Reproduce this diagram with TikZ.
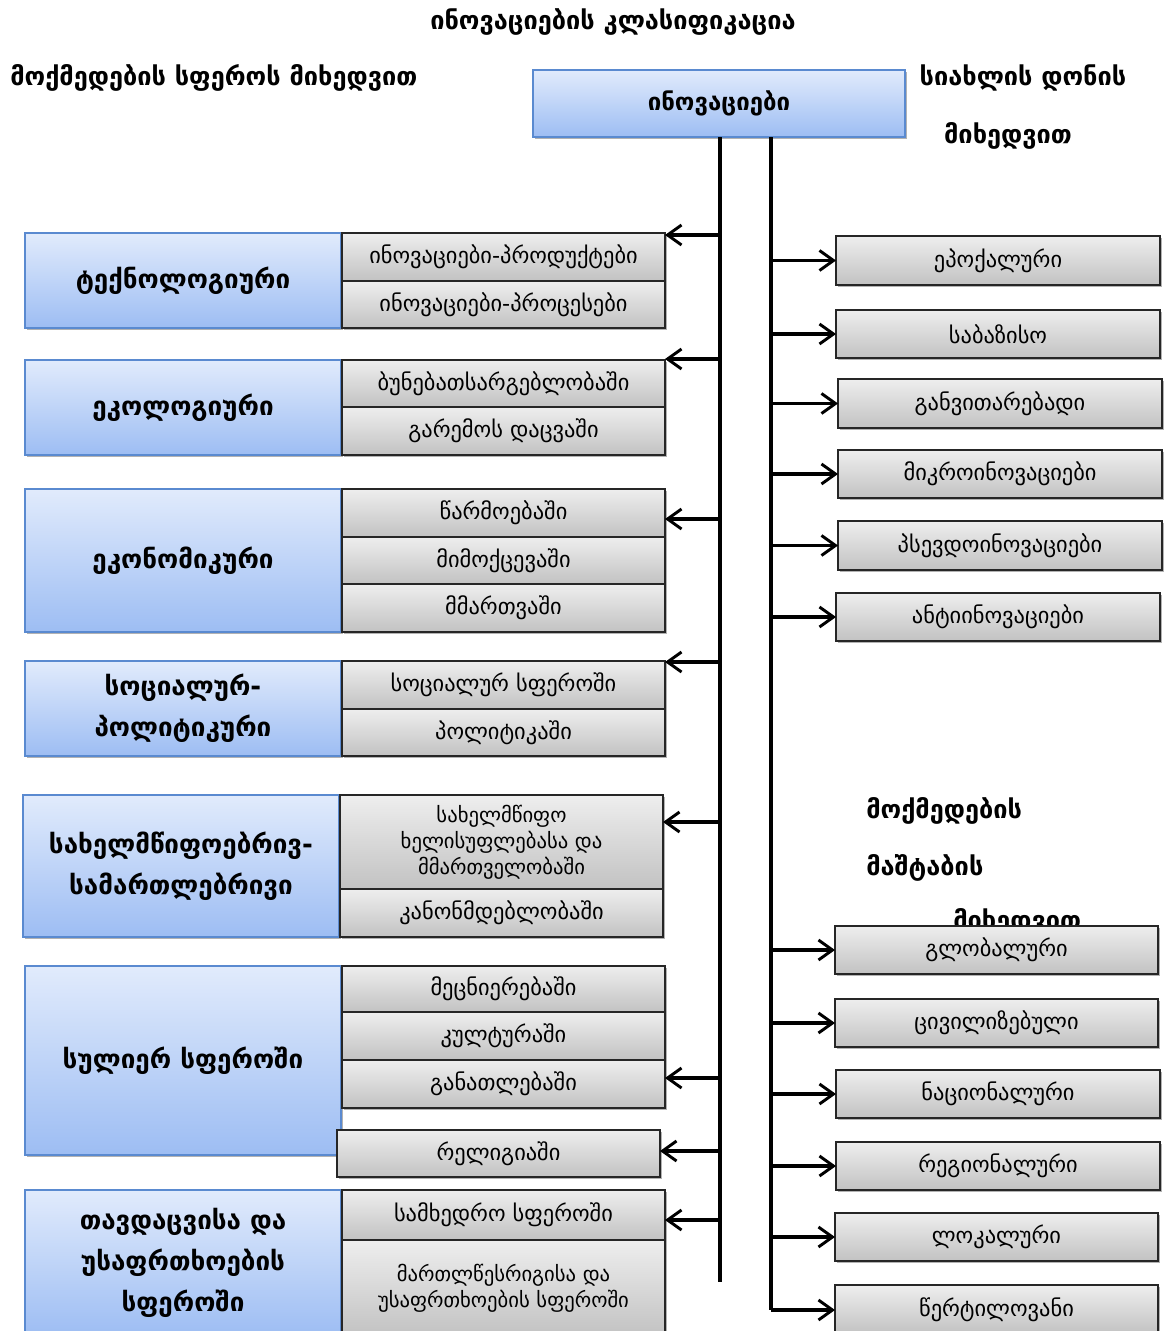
\documentclass[tikz,border=0pt]{standalone}
\usepackage{fontspec}
\setmainfont{DejaVu Sans}
\usetikzlibrary{arrows.meta,shadows}
\definecolor{bluetop}{HTML}{E1EBFC}
\definecolor{bluebot}{HTML}{9DBDF3}
\definecolor{blueborder}{HTML}{5A8AD0}
\definecolor{graytop}{HTML}{EEEEEE}
\definecolor{graybot}{HTML}{C2C2C2}
\tikzset{
  shad/.style={drop shadow={shadow xshift=1.8pt,shadow yshift=-1.8pt,fill=black,opacity=0.3}},
  catbox/.style={draw=blueborder,line width=1.1pt,top color=bluetop,bottom color=bluebot,shad,
     font=\fontsize{19.5}{31}\selectfont\bfseries,align=center,inner sep=0pt,outer sep=0pt},
  subbox/.style={draw=black!85,line width=1.1pt,top color=graytop,bottom color=graybot,shad,
     font=\fontsize{16.8}{19.5}\selectfont,align=center,inner sep=0pt,outer sep=0pt},
  lab/.style={font=\fontsize{19}{22}\selectfont\bfseries,inner sep=0pt},
  trunk/.style={line width=2.3pt,draw=black},
  arr/.style={line width=2.3pt,-{Straight Barb[length=10.5pt,width=15pt,line width=2.2pt]}}
}
\newcommand\bx[7]{\node[#6,minimum width={(#4-#2)*0.75pt},minimum height={(#5-#3)*0.75pt}] (#1) at ({(#2+#4)/2},{(#3+#5)/2}) {#7};}
\begin{document}
\begin{tikzpicture}[x=0.75pt,y=-0.75pt]
\useasboundingbox (0,0) rectangle (1164,1331);
\fill[white] (0,0) rectangle (1164,1331);
% labels
\node[lab] (title) at (613,22) {ინოვაციების კლასიფიკაცია};
\node[lab,anchor=west] (lm) at (10,78) {მოქმედების სფეროს მიხედვით};
\node[lab] (rl1) at (1023,78) {სიახლის დონის};
\node[lab] (rl2) at (1008,136) {მიხედვით};
\node[lab,anchor=west] (ml1) at (866,811) {მოქმედების};
\node[lab,anchor=west] (ml2) at (866,868) {მაშტაბის};
\node[lab,anchor=west] (ml3) at (953,922) {მიხედვით};
% top
\bx{top}{533}{70}{905}{137}{catbox,font=\fontsize{18}{22}\selectfont\bfseries}{ინოვაციები}
% left categories
\bx{c1}{25}{233}{341}{328}{catbox}{ტექნოლოგიური}
\bx{c2}{25}{360}{341}{455}{catbox}{ეკოლოგიური}
\bx{c3}{25}{489}{341}{632}{catbox}{ეკონომიკური}
\bx{c4}{25}{661}{341}{756}{catbox}{სოციალურ-\\პოლიტიკური}
\bx{c5}{23}{795}{339}{937}{catbox}{სახელმწიფოებრივ-\\სამართლებრივი}
\bx{c6}{25}{966}{341}{1155}{catbox}{სულიერ სფეროში}
\bx{c7}{25}{1190}{341}{1336}{catbox}{თავდაცვისა და\\უსაფრთხოების\\სფეროში}
% sub boxes
\bx{s11}{342}{233}{665}{281}{subbox}{ინოვაციები-პროდუქტები}
\bx{s12}{342}{281}{665}{328}{subbox}{ინოვაციები-პროცესები}
\bx{s21}{342}{360}{665}{407}{subbox}{ბუნებათსარგებლობაში}
\bx{s22}{342}{407}{665}{455}{subbox}{გარემოს დაცვაში}
\bx{s31}{342}{489}{665}{537}{subbox}{წარმოებაში}
\bx{s32}{342}{537}{665}{584}{subbox}{მიმოქცევაში}
\bx{s33}{342}{584}{665}{632}{subbox}{მმართვაში}
\bx{s41}{342}{661}{665}{709}{subbox}{სოციალურ სფეროში}
\bx{s42}{342}{709}{665}{756}{subbox}{პოლიტიკაში}
\bx{s51}{340}{795}{663}{889}{subbox,font=\fontsize{15.5}{19.5}\selectfont}{სახელმწიფო\\ხელისუფლებასა და\\მმართველობაში}
\bx{s52}{340}{889}{663}{937}{subbox}{კანონმდებლობაში}
\bx{s61}{342}{966}{665}{1012}{subbox}{მეცნიერებაში}
\bx{s62}{342}{1012}{665}{1060}{subbox}{კულტურაში}
\bx{s63}{342}{1060}{665}{1108}{subbox}{განათლებაში}
\bx{s64}{337}{1130}{660}{1177}{subbox}{რელიგიაში}
\bx{s71}{342}{1190}{665}{1240}{subbox}{სამხედრო სფეროში}
\bx{s72}{342}{1240}{665}{1336}{subbox,font=\fontsize{15.5}{19.5}\selectfont}{მართლწესრიგისა და\\უსაფრთხოების სფეროში}
% right boxes
\bx{r1}{836}{236}{1160}{285}{subbox}{ეპოქალური}
\bx{r2}{836}{310}{1160}{358}{subbox}{საბაზისო}
\bx{r3}{838}{379}{1162}{428}{subbox}{განვითარებადი}
\bx{r4}{838}{450}{1162}{498}{subbox}{მიკროინოვაციები}
\bx{r5}{838}{521}{1162}{570}{subbox}{პსევდოინოვაციები}
\bx{r6}{836}{593}{1160}{641}{subbox}{ანტიინოვაციები}
\bx{g1}{835}{926}{1158}{974}{subbox}{გლობალური}
\bx{g2}{835}{999}{1158}{1047}{subbox}{ცივილიზებული}
\bx{g3}{836}{1070}{1160}{1118}{subbox}{ნაციონალური}
\bx{g4}{836}{1142}{1160}{1190}{subbox}{რეგიონალური}
\bx{g5}{835}{1213}{1158}{1261}{subbox}{ლოკალური}
\bx{g6}{835}{1285}{1158}{1334}{subbox}{წერტილოვანი}
% trunks
\coordinate (TL) at (720,137);
\coordinate (TLe) at (720,1282);
\coordinate (TR) at (771,137);
\coordinate (TRe) at (771,1310);
\draw[trunk] (TL) -- (TLe);
\draw[trunk] (TR) -- (TRe);
% left arrows
\foreach \n/\y/\t in {1/235/s11,2/359/s21,3/519/s31,4/662/s41,5/822/s51,6/1078/s63,7/1151/s64,8/1220/s71}{
  \coordinate (la\n) at (720,\y);
  \draw[arr] (la\n) -- (la\n -| \t.east);
}
% right arrows
\foreach \t in {r1,r2,r3,r4,r5,r6,g1,g2,g3,g4,g5}{
  \draw[arr] (TR |- \t.west) -- (\t.west);
}
\draw[arr] (TRe) -- (TRe -| g6.west);
\end{tikzpicture}
\end{document}
